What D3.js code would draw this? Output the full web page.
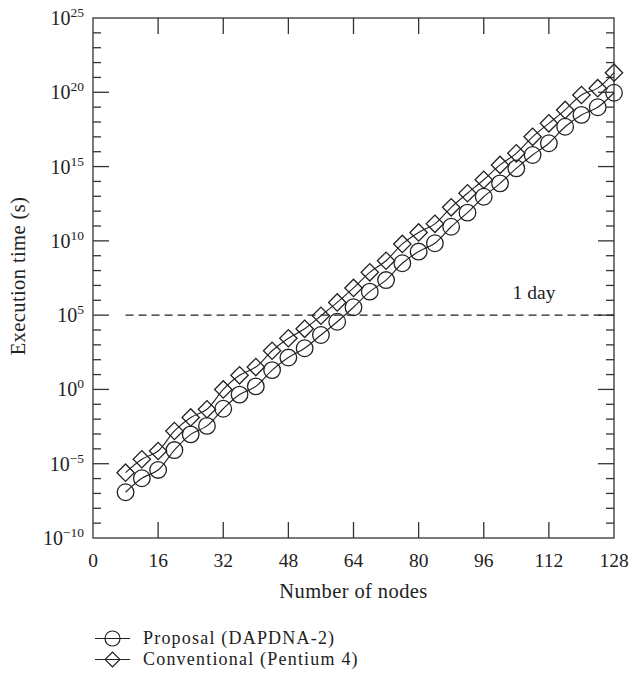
<!DOCTYPE html>
<html>
<head>
<meta charset="utf-8">
<script src="https://cdn.jsdelivr.net/npm/d3@7"></script>
<style>
  body { margin: 0; background: #fff; }
  svg text { font-family: "Liberation Serif", "Times New Roman", serif; fill: #222; }
</style>
</head>
<body>
<svg id="chart" width="630" height="673"></svg>
<script>

// number of nodes (x)
var nodes = [8, 12, 16, 20, 24, 28, 32, 36, 40, 44, 48, 52, 56, 60, 64, 68,
	72, 76, 80, 84, 88, 92, 96, 100, 104, 108, 112, 116, 120, 124, 128];

// execution time (s), proposal (DAPDNA-2)
var proposal = [1.2e-7, 1.05e-6, 3.8e-6, 8.3e-5, 9.5e-4, 3.5e-3, 5.0e-2, 0.45, 1.6, 20, 140,
	590, 4.6e3, 3.6e4, 3.4e5, 3.8e6, 2.3e7, 3.1e8, 1.9e9, 6.9e9, 8.9e10, 7.9e11,
	9.3e12, 7.4e13, 7.6e14, 6.0e15, 3.7e16, 4.8e17, 3.0e18, 9.8e18, 9.3e19];

// execution time (s), conventional (Pentium 4)
var conventional = [2.5e-6, 2.0e-5, 7.2e-5, 1.6e-3, 1.3e-2, 4.6e-2, 1.0, 8.9, 32, 400, 2.8e3,
	1.2e4, 9.1e4, 7.2e5, 6.8e6, 7.6e7, 4.6e8, 6.2e9, 3.7e10, 1.4e11, 1.8e12, 1.6e13,
	1.3e14, 1.3e15, 7.8e15, 1.0e17, 8.1e17, 6.5e18, 6.6e19, 1.9e20, 2.1e21];

var xTicks = [0, 16, 32, 48, 64, 80, 96, 112, 128];
var yExponents = [-10, -5, 0, 5, 10, 15, 20, 25];
var oneDay = 1e5;

var legendLabels = ["Proposal (DAPDNA-2)", "Conventional (Pentium 4)"];

var margin = {left: 93, top: 18, right: 614, bottom: 538};
var axisColor = "#333";

var svg = d3.select("#chart");

var x = d3.scaleLinear().domain([0, 128]).range([margin.left, margin.right]);
var y = d3.scaleLog().domain([1e-10, 1e25]).range([margin.bottom, margin.top]);

// frame
svg.append("rect")
	.attr("x", margin.left).attr("y", margin.top)
	.attr("width", margin.right - margin.left)
	.attr("height", margin.bottom - margin.top)
	.attr("fill", "none").attr("stroke", axisColor).attr("stroke-width", 1.3);

// x ticks, bottom and top, pointing inward
var xt = svg.append("g").attr("stroke", axisColor).attr("stroke-width", 1.3);
xTicks.slice(1, -1).forEach(function(t){
	xt.append("line").attr("x1", x(t)).attr("x2", x(t))
		.attr("y1", margin.bottom).attr("y2", margin.bottom - 16);
	xt.append("line").attr("x1", x(t)).attr("x2", x(t))
		.attr("y1", margin.top).attr("y2", margin.top + 16);
});

svg.append("g").selectAll("text")
	.data(xTicks)
	.enter()
	.append("text")
	.attr("x", function(d){ return x(d); })
	.attr("y", margin.bottom + 29)
	.attr("text-anchor", "middle")
	.attr("font-size", 19.5)
	.text(function(d){ return d; });

// y ticks, major every 5 decades, minor every decade
var yt = svg.append("g").attr("stroke", axisColor).attr("stroke-width", 1.3);
d3.range(-10, 26).forEach(function(e){
	if (e == -10 || e == 25) return;
	var len = (e % 5 == 0) ? 16 : 8;
	var yy = y(Math.pow(10, e));
	yt.append("line").attr("x1", margin.left).attr("x2", margin.left + len)
		.attr("y1", yy).attr("y2", yy);
	yt.append("line").attr("x1", margin.right).attr("x2", margin.right - len)
		.attr("y1", yy).attr("y2", yy);
});

var ylab = svg.append("g").selectAll("text")
	.data(yExponents)
	.enter()
	.append("text")
	.attr("x", margin.left - 9)
	.attr("y", function(d){ return y(Math.pow(10, d)) + 7; })
	.attr("text-anchor", "end")
	.attr("font-size", 20);
ylab.append("tspan").text("10");
ylab.append("tspan")
	.attr("font-size", 13.5)
	.attr("dy", -8)
	.text(function(d){ return d < 0 ? "\u2212" + (-d) : d; });

// axis titles
svg.append("text")
	.attr("x", (margin.left + margin.right) / 2)
	.attr("y", 598)
	.attr("text-anchor", "middle")
	.attr("font-size", 20.5)
	.attr("letter-spacing", 0.4)
	.text("Number of nodes");

svg.append("text")
	.attr("transform", "translate(25," + 276 + ") rotate(-90)")
	.attr("text-anchor", "middle")
	.attr("font-size", 20.5)
	.attr("letter-spacing", 0.4)
	.text("Execution time (s)");

// 1 day reference
svg.append("line")
	.attr("x1", x(nodes[0])).attr("x2", margin.right)
	.attr("y1", y(oneDay)).attr("y2", y(oneDay))
	.attr("stroke", "#222").attr("stroke-width", 1.2)
	.attr("stroke-dasharray", "8,5");

svg.append("text")
	.attr("x", 534).attr("y", y(oneDay) - 16)
	.attr("text-anchor", "middle")
	.attr("font-size", 19.5)
	.text("1 day");

// series
var line = d3.line()
	.x(function(d, i){ return x(nodes[i]); })
	.y(function(d){ return y(d); })
	.curve(d3.curveCatmullRom);

var diamond = d3.symbol().type(d3.symbolSquare).size(150);

[proposal, conventional].forEach(function(series, k){
	svg.append("path")
		.datum(series)
		.attr("d", line)
		.attr("fill", "none")
		.attr("stroke", "#222")
		.attr("stroke-width", 1.1);

	var g = svg.append("g");
	if (k == 0) {
		g.selectAll("circle")
			.data(series)
			.enter()
			.append("circle")
			.attr("cx", function(d, i){ return x(nodes[i]); })
			.attr("cy", function(d){ return y(d); })
			.attr("r", 8.3)
			.attr("fill", "none")
			.attr("stroke", "#222")
			.attr("stroke-width", 1.3);
	} else {
		g.selectAll("path")
			.data(series)
			.enter()
			.append("path")
			.attr("d", diamond)
			.attr("transform", function(d, i){
				return "translate(" + x(nodes[i]) + "," + y(d) + ") rotate(45)";
			})
			.attr("fill", "none")
			.attr("stroke", "#222")
			.attr("stroke-width", 1.3);
	}
});

// legend
var legend = svg.append("g");
legendLabels.forEach(function(lbl, i){
	var ly = 638.5 + i * 21;
	legend.append("line")
		.attr("x1", 95).attr("x2", 130)
		.attr("y1", ly).attr("y2", ly)
		.attr("stroke", "#222").attr("stroke-width", 1.1);
	if (i == 0) {
		legend.append("circle").attr("cx", 112.5).attr("cy", ly).attr("r", 7.5)
			.attr("fill", "none").attr("stroke", "#222").attr("stroke-width", 1.2);
	} else {
		legend.append("path")
			.attr("d", d3.symbol().type(d3.symbolSquare).size(110))
			.attr("transform", "translate(112.5," + ly + ") rotate(45)")
			.attr("fill", "none").attr("stroke", "#222").attr("stroke-width", 1.2);
	}
	legend.append("text")
		.attr("x", 143).attr("y", ly + 5.5)
		.attr("font-size", 18)
		.attr("letter-spacing", 1.2)
		.text(lbl);
});

</script>
</body>
</html>
